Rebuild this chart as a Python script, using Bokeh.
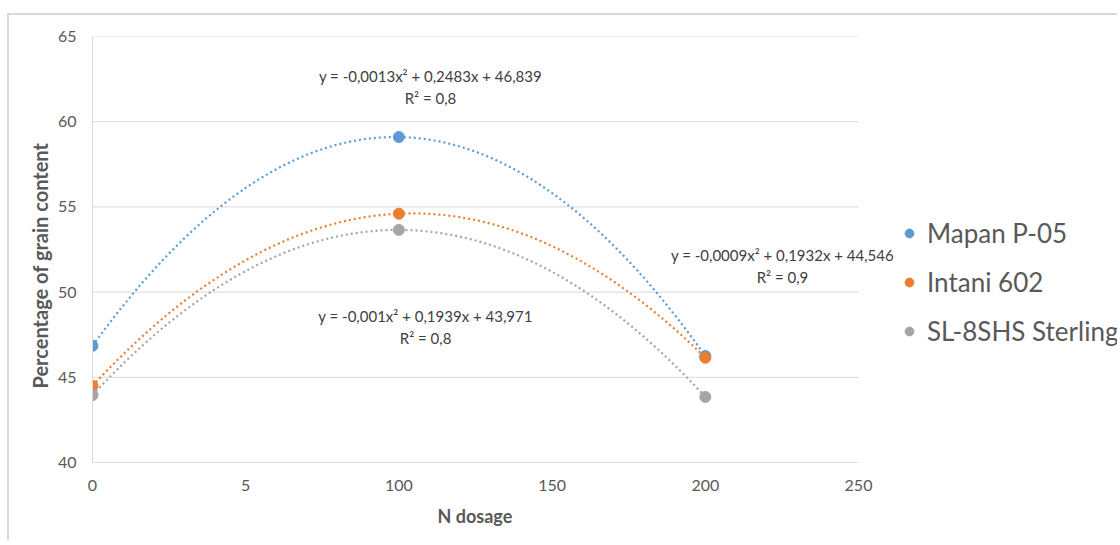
import numpy as np
from bokeh.plotting import figure
from bokeh.models import Range1d, Legend, LegendItem, Label, FixedTicker, Title
from bokeh.embed import file_html
from bokeh.resources import INLINE

# ---- data ----
doses = [0, 100, 200]
series_names = ["Mapan P-05", "Intani 602", "SL-8SHS Sterling"]
mapan = [46.85, 59.1, 46.25]
intani = [44.5, 54.6, 46.15]
sterling = [43.95, 53.65, 43.85]
colors = ["#5B9BD5", "#ED7D31", "#A5A5A5"]
x_ticks = [0, 50, 100, 150, 200, 250]
x_tick_labels = ["0", "5", "100", "150", "200", "250"]
y_ticks = [40, 45, 50, 55, 60, 65]
x_title = "N dosage"
y_title = "Percentage of grain content"
eq_mapan = ["y = -0,0013x² + 0,2483x + 46,839", "R² = 0,8"]
eq_intani = ["y = -0,0009x² + 0,1932x + 44,546", "R² = 0,9"]
eq_sterling = ["y = -0,001x² + 0,1939x + 43,971", "R² = 0,8"]

FONT = "Lato"
GREY = "#595959"

PX_PER_UNIT = 766 / 250.0
FRAME_W = 1025

p = figure(width=1108, height=525, output_backend="svg", toolbar_location=None,
           x_range=Range1d(0, FRAME_W / PX_PER_UNIT), y_range=Range1d(40, 65),
           frame_width=FRAME_W, frame_height=426,
           min_border_left=83, min_border_top=21, min_border_right=0, min_border_bottom=78)
p.styles = {"margin-left": "7px", "margin-top": "13px",
            "border-left": "2px solid #D9D9D9", "border-top": "2px solid #D9D9D9"}
p.outline_line_color = None
p.background_fill_color = "white"
p.border_fill_color = "white"

p.xgrid.grid_line_color = None
p.ygrid.grid_line_color = None

# horizontal gridlines only across 0..250
p.segment(x0=[x_ticks[0]] * (len(y_ticks) - 1), x1=[x_ticks[-1]] * (len(y_ticks) - 1),
          y0=y_ticks[1:], y1=y_ticks[1:], line_color="#D9D9D9", line_width=1)
p.segment(x0=[x_ticks[0]], x1=[x_ticks[-1]], y0=[y_ticks[0]], y1=[y_ticks[0]],
          line_color="#BFBFBF", line_width=1)

p.xaxis.ticker = FixedTicker(ticks=x_ticks)
p.xaxis.major_label_overrides = {t: l for t, l in zip(x_ticks, x_tick_labels)}
p.yaxis.ticker = FixedTicker(ticks=y_ticks)

for ax in (p.xaxis[0], p.yaxis[0]):
    ax.major_tick_line_color = None
    ax.minor_tick_line_color = None
    ax.major_label_text_font = FONT
    ax.major_label_text_font_size = "16px"
    ax.major_label_text_color = GREY
p.xaxis.axis_line_color = None
p.yaxis.axis_line_color = "#D9D9D9"
p.xaxis.major_label_standoff = 11
p.yaxis.major_label_standoff = 10

# axis titles, positioned along the 0..250 span
p.add_layout(Title(text=x_title, align="left", offset=345, standoff=19,
                   text_font=FONT, text_font_size="18px", text_font_style="bold",
                   text_color=GREY), "below")
p.add_layout(Title(text=y_title, align="left", offset=74, standoff=5,
                   text_font=FONT, text_font_size="20px", text_font_style="bold",
                   text_color=GREY), "left")

items = []
xs = np.linspace(0, 200, 200)
for name, vals, c in zip(series_names, [mapan, intani, sterling], colors):
    coef = np.polyfit(doses, vals, 2)
    p.line(xs, np.polyval(coef, xs), line_color=c, line_width=2.2, line_dash="2 3")
    r = p.scatter(doses, vals, size=11, color=c)
    items.append(LegendItem(label=name, renderers=[r]))

legend = Legend(items=items, location=(806, 113), orientation="vertical",
                glyph_width=22, glyph_height=36, label_height=36,
                spacing=13, label_standoff=7, padding=0, margin=0,
                label_text_font=FONT, label_text_font_size="26px",
                label_text_color=GREY, border_line_color=None,
                background_fill_alpha=0)
p.add_layout(legend, "center")

def eq_label(x, y1, y2, lines):
    for yy, t in zip((y1, y2), lines):
        p.add_layout(Label(x=x, y=yy, text=t, text_align="center", text_baseline="middle",
                           text_font=FONT, text_font_size="15px", text_color="#404040"))

eq_label(110.3, 62.71, 61.42, eq_mapan)
eq_label(225.2, 52.2, 50.9, eq_intani)
eq_label(108.7, 48.57, 47.33, eq_sterling)

open("out.html", "w").write(file_html(p, INLINE))
